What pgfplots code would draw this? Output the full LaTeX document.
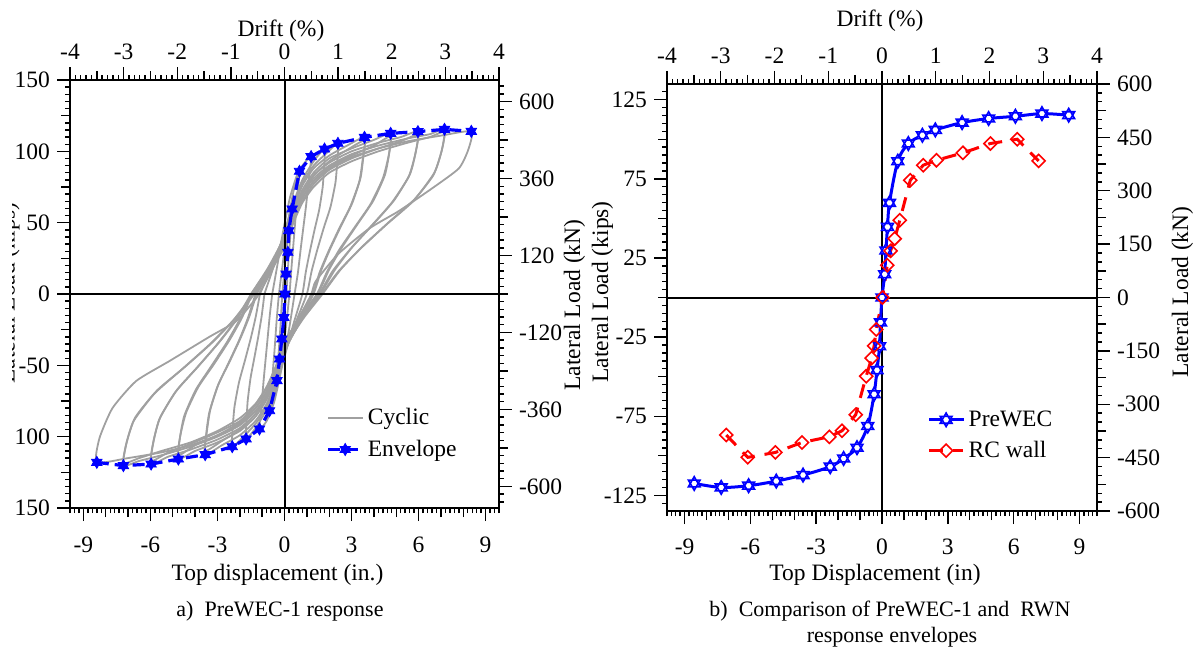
\documentclass[border=0pt]{standalone}
\usepackage{fontspec}
\setmainfont{Liberation Serif}
\usepackage{pgfplots}
\pgfplotsset{compat=1.18}
\definecolor{cyc}{RGB}{160,160,160}
\newcommand\lf{\fontsize{11.75}{14}\selectfont}
\newcommand\cf{\fontsize{11}{13}\selectfont}
\pgfdeclareplotmark{hexstar}{%
  \pgfpathmoveto{\pgfpointpolar{90}{\pgfplotmarksize}}%
  \pgfpathlineto{\pgfpointpolar{210}{\pgfplotmarksize}}%
  \pgfpathlineto{\pgfpointpolar{330}{\pgfplotmarksize}}%
  \pgfpathclose
  \pgfpathmoveto{\pgfpointpolar{270}{\pgfplotmarksize}}%
  \pgfpathlineto{\pgfpointpolar{30}{\pgfplotmarksize}}%
  \pgfpathlineto{\pgfpointpolar{150}{\pgfplotmarksize}}%
  \pgfpathclose
  \pgfusepathqfillstroke
}
\pgfplotsset{
  base/.style={
    scale only axis,
    tick align=outside,
    axis line style={line width=0.9pt},
    every tick/.style={black, line width=0.7pt},
    major tick length=6.5pt, minor tick length=2.5pt,
    tick label style={font=\lf},
    /pgf/number format/assume math mode=true,
    extra x tick labels={}, extra y tick labels={},
    extra x tick style={major tick length=4.5pt},
    extra y tick style={major tick length=4.5pt},
  },
  gl/.style={cyc, line width=0.9pt, forget plot, smooth, tension=0.35},
}
\begin{document}
\begin{tikzpicture}
\useasboundingbox (0,0) rectangle (599.5pt,325pt);
% ---------------- left panel -----------------
\begin{axis}[base, at={(35pt,71pt)}, anchor=south west, width=214.5pt, height=214pt,
  axis x line*=top, axis y line*=right,
  xmin=-4, xmax=4, ymin=-667.2, ymax=667.2,
  xtick={-4,-3,...,4}, minor xtick={-4,-3.9,...,4},
  extra x ticks={-3.5,-2.5,-1.5,-0.5,0.5,1.5,2.5,3.5},
  ytick={-600,-360,-120,120,360,600}, minor ytick={-648,-624,...,648},
  extra y ticks={-480,-240,0,240,480},
]
\end{axis}
\begin{axis}[base, at={(35pt,71pt)}, anchor=south west, width=214.5pt, height=214pt,
  axis x line*=bottom, axis y line*=left,
  xmin=-9.6, xmax=9.6, ymin=-150, ymax=150,
  xtick={-9,-6,...,9}, minor xtick={-9.6,-9.4,...,9.6},
  xticklabel style={yshift=-4.5pt},
  extra x ticks={-8,-7,-5,-4,-2,-1,1,2,4,5,7,8},
  ytick={-150,-100,...,150}, yticklabels={150,100,-50,0,50,100,150},
  minor ytick={-145,-140,...,145},
  extra y ticks={-125,-75,-25,25,75,125},
  legend style={draw=none, fill=none, font=\lf, at={(0.583,0.252)}, anchor=north west, row sep=2pt},
  legend cell align=left,
]
\addplot[cyc, line width=0.9pt, smooth, tension=0.35] coordinates {(-0.10,0) (0.05,25) (0.20,48) (0.34,59.6) (0.28,45) (0.17,22) (0.08,0) (-0.05,-22) (-0.20,-46) (-0.34,-60.7) (-0.28,-45) (-0.18,-22) (-0.10,0)};
\addlegendentry{Cyclic}
\addplot[gl] coordinates {(-0.25,0) (-0.05,25) (0.15,50) (0.40,72) (0.67,86) (0.58,70) (0.45,45) (0.32,20) (0.22,0) (0.05,-25) (-0.20,-52) (-0.45,-72) (-0.67,-81.8) (-0.58,-65) (-0.45,-40) (-0.35,-18) (-0.25,0)};
\addplot[gl] coordinates {(-0.55,0) (-0.30,22) (-0.05,45) (0.25,68) (0.60,85) (0.90,92) (1.19,96.3) (1.10,82) (0.95,60) (0.75,35) (0.60,15) (0.45,0) (0.20,-25) (-0.10,-50) (-0.45,-75) (-0.80,-89) (-1.12,-94.6) (-1.04,-80) (-0.92,-58) (-0.78,-35) (-0.66,-15) (-0.55,0)};
\addplot[gl] coordinates {(-0.90,0) (-0.45,21) (0,44) (0.40,64) (0.80,80) (1.30,93) (1.79,101.6)
 (1.77,89.4) (1.71,75.2) (1.55,58.9) (1.34,44.7) (1.13,29.5) (0.95,15.2) (0.80,0)
 (0.40,-21) (0,-44) (-0.40,-65) (-0.80,-81) (-1.30,-94) (-1.72,-101.6)
 (-1.70,-89.4) (-1.65,-75.2) (-1.52,-58.9) (-1.35,-44.7) (-1.17,-29.5) (-1.02,-15.2) (-0.90,0)};
\addplot[gl] coordinates {(-1.10,0) (-0.55,20) (0,42) (0.40,62) (0.80,78) (1.30,90) (1.90,99) (2.39,105.6)
 (2.36,92.9) (2.28,78.1) (2.06,61.2) (1.76,46.5) (1.46,30.6) (1.21,15.8) (1.00,0)
 (0.50,-20) (0,-42) (-0.40,-63) (-0.80,-79) (-1.30,-91) (-1.90,-101) (-2.34,-107)
 (-2.32,-94.2) (-2.24,-79.2) (-2.04,-62.1) (-1.78,-47.1) (-1.51,-31.0) (-1.29,-16.1) (-1.10,0)};
\addplot[gl] coordinates {(-1.30,0) (-0.65,19) (0,41) (0.40,60) (0.80,76) (1.30,88) (2.00,97) (2.80,104) (3.58,109.8)
 (3.53,96.6) (3.40,81.3) (3.03,63.7) (2.55,48.3) (2.05,31.8) (1.64,16.5) (1.30,0)
 (0.65,-19) (0,-41) (-0.40,-61) (-0.80,-77) (-1.30,-89) (-2.00,-99) (-2.80,-106) (-3.55,-112.6)
 (-3.51,-99.1) (-3.37,-83.3) (-3.01,-65.3) (-2.54,-49.5) (-2.04,-32.7) (-1.64,-16.9) (-1.30,0)};
\addplot[gl] coordinates {(-1.25,0) (-0.65,16) (0,36) (0.40,54) (0.80,70) (1.30,83) (2.00,93) (2.80,101) (3.58,107.5)
 (3.50,94.5) (3.35,79) (2.95,61.5) (2.45,46) (1.97,30) (1.58,15.5) (1.25,0)
 (0.65,-16) (0,-36) (-0.40,-55) (-0.80,-71) (-1.30,-84) (-2.00,-95) (-2.80,-103) (-3.55,-110)
 (-3.48,-97) (-3.32,-81) (-2.95,-63) (-2.46,-47.5) (-1.97,-31) (-1.58,-16) (-1.25,0)};
\addplot[gl] coordinates {(-1.50,0) (-0.75,18) (0,40) (0.40,58) (0.80,73) (1.30,85) (2.00,95) (3.00,102) (4.00,108) (4.75,112.6)
 (4.69,99.1) (4.49,83.3) (3.97,65.3) (3.29,49.5) (2.57,32.7) (1.99,16.9) (1.50,0)
 (0.75,-18) (0,-40) (-0.40,-59) (-0.80,-74) (-1.30,-86) (-2.00,-96) (-3.00,-104) (-4.00,-110) (-4.75,-115.7)
 (-4.69,-101.8) (-4.49,-85.6) (-3.97,-67.1) (-3.29,-50.9) (-2.57,-33.6) (-1.99,-17.4) (-1.50,0)};
\addplot[gl] coordinates {(-1.45,0) (-0.75,15) (0,35) (0.40,52) (0.80,67) (1.30,79) (2.00,89) (3.00,97) (4.00,104) (4.75,110.5)
 (4.66,97) (4.40,81) (3.85,63) (3.15,47) (2.45,31) (1.90,15.5) (1.45,0)
 (0.75,-15) (0,-35) (-0.40,-53) (-0.80,-68) (-1.30,-80) (-2.00,-91) (-3.00,-99) (-4.00,-106) (-4.75,-113)
 (-4.66,-99) (-4.40,-83) (-3.85,-65) (-3.15,-49) (-2.45,-32) (-1.90,-16.5) (-1.45,0)};
\addplot[gl] coordinates {(-1.50,0) (-0.75,17) (0,39) (0.40,57) (0.80,71) (1.30,83) (2.00,92) (3.00,100) (4.20,106) (5.20,110) (5.97,113.8)
 (5.88,100.1) (5.62,84.2) (4.92,66.0) (4.04,50.1) (3.04,33.0) (2.26,17.1) (1.60,0)
 (0.80,-17) (0,-39) (-0.40,-58) (-0.80,-72) (-1.30,-84) (-2.00,-94) (-3.00,-102) (-4.20,-109) (-5.20,-114) (-5.97,-119.2)
 (-5.88,-104.9) (-5.61,-88.2) (-4.90,-69.1) (-3.96,-52.4) (-2.98,-34.6) (-2.17,-17.9) (-1.50,0)};
\addplot[gl] coordinates {(-1.45,0) (-0.75,14) (0,34) (0.40,51) (0.80,65) (1.30,77) (2.00,87) (3.00,95) (4.20,102) (5.20,107) (5.97,111.5)
 (5.85,98) (5.55,82) (4.80,64) (3.90,48) (2.92,31) (2.15,16) (1.55,0)
 (0.80,-14) (0,-34) (-0.40,-52) (-0.80,-66) (-1.30,-78) (-2.00,-89) (-3.00,-97) (-4.20,-105) (-5.20,-111) (-5.97,-117)
 (-5.85,-102) (-5.55,-86) (-4.80,-67) (-3.85,-50.5) (-2.88,-33) (-2.10,-17) (-1.45,0)};
\addplot[gl] coordinates {(-1.40,0) (-0.70,17) (0,38) (0.40,56) (0.80,70) (1.30,81) (2.00,90) (3.00,98) (4.20,104) (5.50,109) (6.50,112) (7.16,115.4)
 (7.05,101.6) (6.72,85.4) (5.85,66.9) (4.70,50.8) (3.50,33.5) (2.52,17.3) (1.70,0)
 (0.85,-17) (0,-38) (-0.40,-57) (-0.80,-71) (-1.30,-82) (-2.00,-92) (-3.00,-100) (-4.20,-107) (-5.50,-113) (-6.50,-117) (-7.21,-120.3)
 (-7.09,-105.9) (-6.75,-89.0) (-5.82,-69.8) (-4.60,-52.9) (-3.32,-34.9) (-2.27,-18.0) (-1.40,0)};
\addplot[gl] coordinates {(-1.35,0) (-0.70,14) (0,33) (0.40,50) (0.80,64) (1.30,75) (2.00,85) (3.00,93) (4.20,100) (5.50,106) (6.50,110) (7.16,113.5)
 (7.02,99.5) (6.65,83) (5.72,64.5) (4.55,48.5) (3.38,31.5) (2.42,16) (1.65,0)
 (0.85,-14) (0,-33) (-0.40,-51) (-0.80,-65) (-1.30,-77) (-2.00,-87) (-3.00,-96) (-4.20,-104) (-5.50,-110) (-6.50,-115) (-7.21,-118.5)
 (-7.06,-103.5) (-6.68,-86.5) (-5.70,-67.5) (-4.45,-51) (-3.20,-33.5) (-2.20,-17) (-1.35,0)};
\addplot[gl] coordinates {(-1.15,0) (-0.55,17) (0,37) (0.40,54) (0.80,68) (1.30,79) (2.00,88) (3.00,96) (4.20,102) (5.50,107) (7.00,111) (8.36,114)
 (8.22,101) (7.80,88) (6.60,74) (5.10,58) (3.80,46) (2.40,28) (1.40,9) (1.20,0)
 (0.65,-17) (0,-37) (-0.40,-55) (-0.80,-69) (-1.30,-80) (-2.00,-90) (-3.00,-99) (-4.20,-106) (-5.50,-111) (-7.00,-115) (-8.40,-118)
 (-8.28,-101) (-7.70,-80) (-6.64,-61) (-5.15,-47) (-3.36,-30) (-2.16,-19) (-1.27,-3) (-1.15,0)};
\draw[line width=1pt] (axis cs:-9.6,0) -- (axis cs:9.6,0);
\draw[line width=1pt] (axis cs:0,-150) -- (axis cs:0,150);
\addplot[blue, line width=1.6pt, dash pattern=on 6pt off 3pt, mark=hexstar, mark size=3pt, mark options={solid, fill=blue, line width=0.4pt}] coordinates {
 (-8.40,-118.0) (-7.21,-120.3) (-5.97,-119.2) (-4.75,-115.7) (-3.55,-112.6) (-2.34,-107.0) (-1.72,-101.6) (-1.12,-94.6) (-0.67,-81.8) (-0.34,-60.7) (-0.22,-45.6) (-0.12,-31.5) (-0.03,-16.4) (0.02,0) (0.07,14) (0.15,29.2) (0.19,44.4) (0.34,59.6) (0.67,86) (1.19,96.3) (1.79,101.6) (2.39,105.6) (3.58,109.8) (4.75,112.6) (5.97,113.8) (7.16,115.4) (8.36,114)};
\addlegendentry{Envelope}
\end{axis}
\node[font=\lf, anchor=base] at (140.5pt,306.65pt) {Drift (\%)};
\node[font=\lf, anchor=base] at (138.75pt,35pt) {Top displacement (in.)};
\node[font=\cf, anchor=base] at (140pt,17pt) {a)\ \ PreWEC-1 response};
\node[font=\lf, anchor=base, rotate=90] at (290pt,172.5pt) {Lateral Load (kN)};
\begin{scope}
\clip (6.25pt,0pt) rectangle (40pt,325pt);
\node[font=\lf, anchor=base, rotate=90] at (7.25pt,178.5pt) {Lateral Load (kips)};
\end{scope}
% ---------------- right panel -----------------
\begin{axis}[base, at={(333.5pt,69.5pt)}, anchor=south west, width=215pt, height=213.5pt,
  axis x line*=top, axis y line*=right,
  xmin=-4, xmax=4, ymin=-600, ymax=600,
  xtick={-4,-3,...,4}, minor xtick={-4,-3.9,...,4},
  extra x ticks={-3.5,-2.5,-1.5,-0.5,0.5,1.5,2.5,3.5},
  ytick={-600,-450,...,600}, minor ytick={-600,-575,...,600},
  extra y ticks={-525,-375,-225,-75,75,225,375,525},
]
\end{axis}
\begin{axis}[base, at={(333.5pt,69.5pt)}, anchor=south west, width=215pt, height=213.5pt,
  axis x line*=bottom, axis y line*=left,
  xmin=-9.8, xmax=9.8, ymin=-134.9, ymax=134.9,
  xtick={-9,-6,...,9}, minor xtick={-9.8,-9.6,...,9.8},
  xticklabel style={yshift=-4pt},
  extra x ticks={-8,-7,-5,-4,-2,-1,1,2,4,5,7,8},
  ytick={-125,-75,...,125}, minor ytick={-130,-125,...,130},
  extra y ticks={-100,-50,0,50,100},
  legend style={draw=none, fill=none, font=\lf, at={(0.591,0.255)}, anchor=north west, row sep=2pt},
  legend cell align=left,
]
\draw[line width=1pt] (axis cs:-9.8,0) -- (axis cs:9.8,0);
\draw[line width=1pt] (axis cs:0,-134.9) -- (axis cs:0,134.9);
\addplot[blue, line width=1.5pt, smooth, tension=0.5, mark=hexstar, mark size=3.4pt, mark options={solid, fill=white, line width=0.8pt}] coordinates {
 (-8.56,-117.5) (-7.33,-120.0) (-6.08,-118.9) (-4.82,-116.0) (-3.60,-112.2) (-2.36,-106.9) (-1.75,-101.7) (-1.14,-94.9) (-0.65,-81.2) (-0.36,-61.1) (-0.23,-45.9) (-0.11,-30.8) (-0.07,-15.7) (0,0) (0.12,14.7) (0.18,29.7) (0.25,44.6) (0.34,59.8) (0.72,86.1) (1.20,97.3) (1.84,102.5) (2.43,105.9) (3.65,110.5) (4.86,113.1) (6.08,114.5) (7.29,116.2) (8.51,115.2)};
\addlegendentry{PreWEC}
\addplot[red, line width=1.5pt, dash pattern=on 7pt off 5pt, mark=square, mark size=2.3pt, mark options={solid, rotate=45, fill=white, line width=0.8pt}] coordinates {
 (-7.10,-86.9) (-6.12,-101.0) (-4.86,-97.9) (-3.65,-91.6) (-2.40,-88.0) (-1.82,-84.2) (-1.20,-74.1) (-0.72,-49.7) (-0.47,-38.3) (-0.36,-30.6) (-0.26,-20.2) (0.02,0) (0.24,20.4) (0.39,29.5) (0.58,37.2) (0.81,48.8) (1.29,74.1) (1.88,83.6) (2.48,86.7) (3.69,91.4) (4.94,97.3) (6.16,100.0) (7.14,86.3)};
\addlegendentry{RC wall}
\end{axis}
\node[font=\lf, anchor=base] at (440pt,312pt) {Drift (\%)};
\node[font=\lf, anchor=base] at (437.5pt,35pt) {Top Displacement (in)};
\node[font=\cf, anchor=base] at (445pt,17pt) {b)\ \ Comparison of PreWEC-1 and\ \ RWN};
\node[font=\cf, anchor=base] at (446pt,3.8pt) {response envelopes};
\node[font=\lf, anchor=base, rotate=90] at (304pt,179pt) {Lateral Load (kips)};
\node[font=\lf, anchor=base, rotate=90] at (594pt,179pt) {Lateral Load (kN)};
\end{tikzpicture}
\end{document}
